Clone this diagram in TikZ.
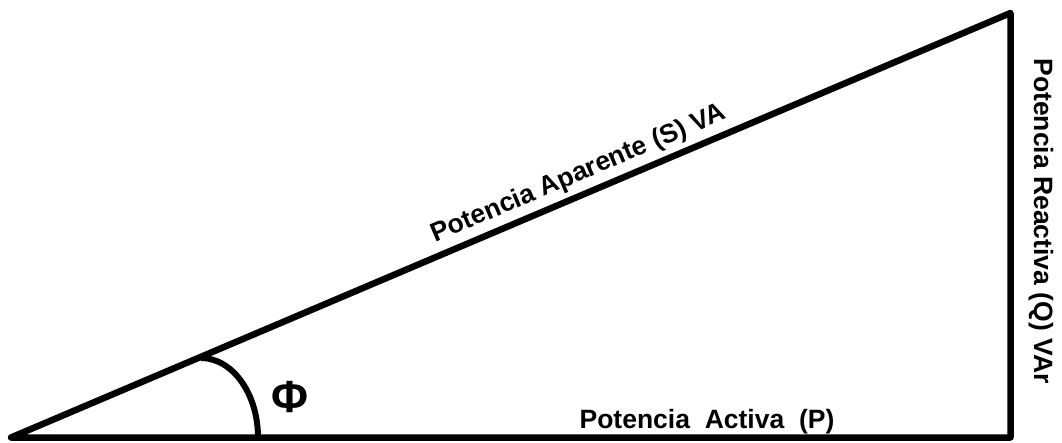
\documentclass[tikz,border=0pt]{standalone}
\usepackage{fontspec}
\setmainfont{Liberation Sans}
\usetikzlibrary{calc}
\begin{document}
\begin{tikzpicture}[x=1pt,y=1pt,
  edge/.style={line width=6.5pt, line join=round, line cap=round},
  anglearc/.style={line width=6pt},
  lbl/.style={font=\bfseries\fontsize{26.5}{30}\selectfont, inner sep=0pt}]
\useasboundingbox (0,0) rectangle (1062,442);
\coordinate (A) at (11,4.5);
\coordinate (B) at (1010.5,4.5);
\coordinate (C) at (1010.5,429);
\draw[edge] (A) -- (B) -- (C) -- cycle;
\coordinate (arcS) at (201,84);
\draw[anglearc] (arcS) arc[start angle=90, end angle=0, x radius=57, y radius=79.5];
\node[font=\bfseries\fontsize{45}{50}\selectfont, inner sep=0pt] (phi) at (290,45) {Φ};
\node[lbl, anchor=base] (P) at (707,14) {Potencia\ \ Activa\ \ (P)};
\node[lbl, rotate=-90] (Q) at (1041,221) {Potencia Reactiva (Q) VAr};
\node[lbl, rotate=23.04, anchor=base] (S) at ($(A)!0.576!(C)!13.5pt!90:(C)$) {Potencia Aparente (S) VA};
\end{tikzpicture}
\end{document}
